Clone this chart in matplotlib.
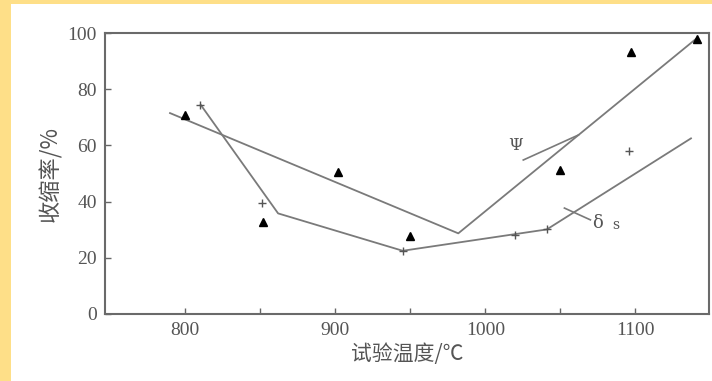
import matplotlib
matplotlib.use("Agg")
import matplotlib.pyplot as plt
from matplotlib.patches import Rectangle

# Data
psi_pts_T = [800, 852, 902, 950, 1050, 1097, 1141]
psi_pts_v = [70.8, 32.9, 50.6, 27.9, 51.2, 93.2, 97.9]
psi_line_T = [790, 982, 1141]
psi_line_v = [71.5, 28.7, 98.2]

ds_pts_T = [810, 851.5, 945, 1020, 1041, 1095.5]
ds_pts_v = [74.4, 39.4, 22.3, 28.0, 30.1, 58.1]
ds_line_T = [810.5, 862, 945, 1041, 1137]
ds_line_v = [74.4, 35.8, 22.5, 30.1, 62.5]

xticks_major = [800, 900, 1000, 1100]
xticks_minor = [850, 950, 1050]
yticks = [0, 20, 40, 60, 80, 100]

plt.rcParams['font.family'] = ['Noto Sans CJK SC', 'DejaVu Sans']

fig = plt.figure(figsize=(7.12, 3.81), dpi=100)
fig.patch.set_facecolor('#FEDF88')
fig.patches.append(Rectangle((11 / 712, 0), 1, 1 - 4 / 381, transform=fig.transFigure,
                             facecolor='white', edgecolor='none', zorder=-10))

ax = fig.add_axes([105 / 712, 67 / 381, 604 / 712, 281 / 381])
ax.set_facecolor('white')

lc = '#7a7a7a'
ax.plot(psi_line_T, psi_line_v, color=lc, lw=1.3)
ax.plot(ds_line_T, ds_line_v, color=lc, lw=1.3)
ax.plot(psi_pts_T, psi_pts_v, linestyle='none', marker='^', color='black', ms=6)
ax.plot(ds_pts_T, ds_pts_v, linestyle='none', marker='+', color='#555555', ms=6, mew=1.0)

# annotations
ax.plot([1025.3, 1062], [54.8, 63.7], color=lc, lw=1.2)
ax.plot([1052.7, 1070], [37.7, 33.5], color=lc, lw=1.2)
ax.text(1020, 60, 'Ψ', family='DejaVu Serif', fontsize=12, color='#555555',
        ha='center', va='center')
ax.text(1075, 32.4, 'δ', family='DejaVu Serif', fontsize=13, color='#555555',
        ha='center', va='center')
ax.text(1087, 31.8, 's', family='DejaVu Serif', fontsize=10, color='#555555',
        ha='center', va='center')

ax.set_xlim(746.7, 1149)
ax.set_ylim(0, 100)
ax.set_xticks(xticks_major)
ax.set_xticks(xticks_minor, minor=True)
ax.set_yticks(yticks)
ax.tick_params(axis='both', which='both', direction='in', length=4, width=1,
               color='#666666', labelcolor='#555555', labelsize=14)
for lab in ax.get_xticklabels() + ax.get_yticklabels():
    lab.set_family('Liberation Serif')
ax.tick_params(axis='x', pad=6)
ax.tick_params(axis='y', pad=6)
for s in ax.spines.values():
    s.set_color('#6a6a6a')
    s.set_linewidth(1.5)

ax.set_xlabel('试验温度/℃', fontsize=15, color='#555555', labelpad=3)
ax.set_ylabel('收缩率/%', fontsize=16, color='#555555', labelpad=4)

fig.savefig('out.png', dpi=100)
